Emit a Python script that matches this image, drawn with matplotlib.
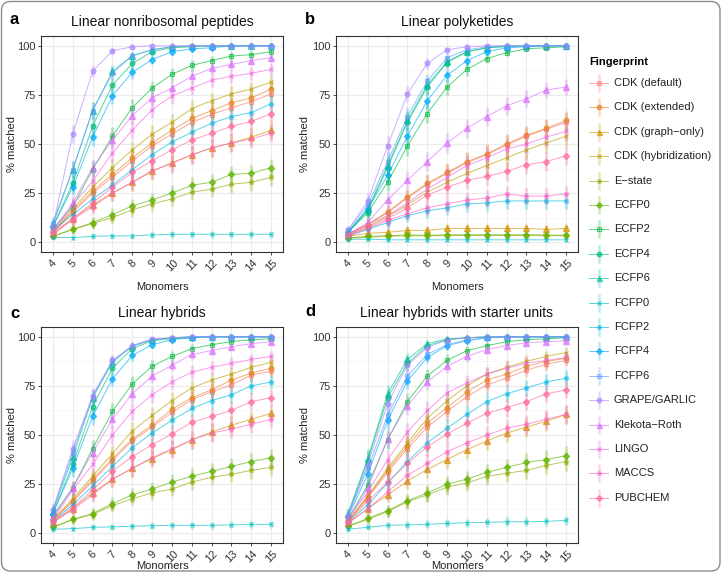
import numpy as np
import matplotlib
matplotlib.use("Agg")
import matplotlib.pyplot as plt
from matplotlib.patches import FancyBboxPatch

plt.rcParams['font.family'] = ['Liberation Sans', 'DejaVu Sans']

MONOMERS = [4, 5, 6, 7, 8, 9, 10, 11, 12, 13, 14, 15]

FINGERPRINTS = [
    "CDK (default)", "CDK (extended)", "CDK (graph\u2212only)", "CDK (hybridization)",
    "E\u2212state", "ECFP0", "ECFP2", "ECFP4", "ECFP6", "FCFP0", "FCFP2", "FCFP4",
    "FCFP6", "GRAPE/GARLIC", "Klekota\u2212Roth", "LINGO", "MACCS", "PUBCHEM",
]

# % matched, one row per fingerprint (same order as FINGERPRINTS)
NRP = [
    [5, 15, 25, 33, 41.5, 49, 55, 61, 65, 68.5, 71.5, 75.5],
    [5, 16, 26, 34.5, 43, 50.5, 57, 63, 67, 71, 73.5, 78],
    [4, 12, 19, 25, 30.5, 36, 40.5, 44.5, 48, 50.5, 53.5, 57],
    [5, 17, 28, 38, 47, 55, 61, 68, 72, 75.5, 78, 81.5],
    [3, 6.5, 9.5, 12.5, 16.5, 19.5, 22, 25.5, 27, 29.5, 30.5, 33],
    [3, 6.5, 10, 14, 18.5, 21.5, 25, 29, 30.5, 34.5, 35, 38],
    [7, 18, 37, 54, 68.5, 78.5, 85.5, 90, 92.5, 94.8, 95.5, 97],
    [8, 30, 59, 80, 91, 97, 99, 99.5, 100, 100, 100, 100],
    [9, 37, 67, 87, 95, 98, 99.5, 100, 100, 100, 100, 100],
    [2.5, 2.3, 3, 3.2, 3.2, 3.7, 4, 4, 4, 4, 4, 4],
    [6, 14, 22, 29, 37, 44.5, 51, 56, 60.5, 64, 66, 70.5],
    [8, 28, 53.5, 74.5, 86.5, 93, 97, 98.5, 99, 100, 100, 100],
    [10, 37, 67, 86, 95, 98, 99.5, 100, 100, 100, 100, 100],
    [8, 55, 87, 97.5, 99.5, 100, 100, 100, 100, 100, 100, 100],
    [6, 20, 38, 52, 64.5, 73.5, 78.5, 84.5, 88.5, 90.5, 92.5, 94],
    [5, 19, 31, 45.5, 57, 67.5, 74.5, 78.5, 82.5, 84.5, 86, 88],
    [4, 11.5, 18, 25, 30.5, 36.5, 40, 44.5, 48, 50.5, 52.5, 55.5],
    [5, 12, 20, 28, 35.5, 41.5, 47, 52, 55.5, 59, 61.5, 65.5],
]

PK = [
    [4, 9, 15, 22.5, 29.5, 35, 40.5, 44.5, 49.5, 54, 57.5, 61],
    [4, 9, 15.5, 23, 30, 35.5, 41, 45, 50, 54.5, 58, 62],
    [3, 4.5, 5, 6, 6, 7, 7, 7, 7, 7, 6.5, 7],
    [3.5, 8, 13, 19, 25.5, 30.5, 35, 39, 43, 47, 50.5, 54],
    [2, 2.5, 3, 3.3, 3.2, 3.4, 3.4, 3.4, 3.4, 3.4, 3.3, 3.3],
    [2.2, 3, 3.2, 3.7, 3.5, 3.8, 3.8, 3.8, 3.8, 3.8, 3.7, 3.5],
    [5, 15, 30.5, 49, 65.5, 79, 88, 93.5, 96.5, 98.5, 99, 99.5],
    [5, 16, 38, 61, 79, 91.5, 97, 99, 100, 100, 100, 100],
    [5, 17, 39, 62, 80, 92, 97, 99, 99.5, 100, 100, 100],
    [1.5, 1.5, 1.2, 1.2, 1.2, 1.2, 1.2, 1.2, 1.2, 1.2, 1.2, 1.2],
    [3, 6.5, 10, 13.5, 16, 17.5, 19.5, 20, 21, 21, 21, 21],
    [5, 17, 34, 54, 72, 85, 92.5, 97, 99, 99.5, 100, 100],
    [6, 19, 41, 64, 82, 94, 98, 99.5, 100, 100, 100, 100],
    [6, 21, 49, 75.5, 91, 98, 99.5, 100, 100, 100, 100, 100],
    [4, 10, 21.5, 31.5, 41, 50.5, 58, 64, 69.5, 73, 77.5, 79],
    [4, 9, 13.5, 20, 27, 33, 39, 43, 47.5, 50, 53.5, 56.5],
    [3, 7, 11, 14.5, 17.5, 19.5, 21.5, 22.5, 24.5, 23.5, 23.5, 24.5],
    [3.5, 7.5, 12, 17.5, 24, 28, 31.5, 33.5, 36, 39.5, 41, 44],
]

HYB = [
    [6.5, 16, 26.5, 37, 47, 54, 61.5, 68, 72, 75.5, 80.5, 82.5],
    [6.5, 16.5, 27.5, 38, 48, 55, 63, 69, 73, 78, 81.5, 84],
    [5.5, 12.5, 20.5, 27.5, 33, 38, 42.5, 47.5, 51.5, 55, 58, 61],
    [7, 17.5, 29, 40.5, 52, 60, 67.5, 74, 78, 81, 84.5, 87],
    [3, 7, 9.5, 14, 17.5, 20.5, 22.5, 26, 28.5, 30, 32, 33.5],
    [3, 7, 10, 15, 19.5, 22.5, 26, 29, 31.5, 34, 36.5, 38.5],
    [9, 23, 43, 62, 76, 85, 90, 94, 96, 97.5, 98.5, 99],
    [10, 35, 64.5, 84, 94, 98, 99, 99.5, 100, 100, 100, 100],
    [11, 39, 69, 87, 95.5, 98.5, 99.5, 100, 100, 100, 100, 100],
    [2, 2.3, 3, 3.2, 3.5, 3.8, 4, 4, 4, 4.2, 4.5, 4.5],
    [6, 14.5, 24, 34, 43.5, 51, 57.5, 63.5, 67.5, 70.5, 75, 77],
    [10, 33, 59.5, 78.5, 90.5, 96, 98.5, 99.5, 100, 100, 100, 100],
    [12, 41, 69.5, 87.5, 95, 98.5, 99.5, 100, 100, 100, 100, 100],
    [12, 43, 70, 88, 95.5, 99, 99.5, 100, 100, 100, 100, 100],
    [8, 23, 41, 58, 71, 80, 85.5, 91, 93, 95, 96.5, 97.5],
    [7, 22, 35, 50, 62, 70.5, 77, 82, 84.5, 86.5, 88.5, 90],
    [5.5, 12, 19.5, 27.5, 33, 38.5, 43, 47.5, 51, 53, 55.5, 58],
    [6, 13, 22, 31.5, 39, 45, 50.5, 56.5, 59.5, 62.5, 67, 69],
]

HYB_START = [
    [6, 18, 31, 43, 54, 62, 69.5, 75.5, 79, 83, 86, 88],
    [6, 18.5, 32, 44.5, 56, 64, 72, 78, 81, 85, 87.5, 89],
    [5, 12.5, 19.5, 26.5, 32.5, 37.5, 42.5, 47, 51, 54, 57, 60.5],
    [6, 19, 33, 46, 58.5, 67.5, 75, 81, 84.5, 87.5, 90, 92],
    [3.5, 7, 11, 16, 19.5, 23.5, 25.5, 29, 30.5, 32, 34.5, 36.5],
    [3.5, 7.5, 11.5, 16.5, 20.5, 25, 27.5, 31, 33.5, 36, 37.5, 39.5],
    [7, 24.5, 47.5, 67, 80, 88, 93, 95.5, 97.5, 98.5, 99, 99.5],
    [9, 37, 69, 86.5, 95.5, 98.5, 99.5, 100, 100, 100, 100, 100],
    [10, 38, 71, 88.5, 96.5, 99, 99.5, 100, 100, 100, 100, 100],
    [2, 3, 4, 4.2, 4.5, 5, 5.3, 5.5, 5.8, 5.8, 6, 6.5],
    [5.5, 14.5, 25.5, 36.5, 46, 53.5, 60.5, 67, 71, 74, 77, 79],
    [8, 30, 57.5, 77.5, 89.5, 95.5, 98, 99.5, 100, 100, 100, 100],
    [9, 33, 60, 80, 91, 96, 98.5, 99.5, 100, 100, 100, 100],
    [9, 35, 66, 85.5, 94.5, 98.5, 99.5, 100, 100, 100, 100, 100],
    [7, 23, 48, 65, 77, 85, 90, 93.5, 95.5, 97, 97.5, 98],
    [7, 21, 37.5, 51.5, 62.5, 71.5, 76.5, 81, 84, 86.5, 88, 89.5],
    [5, 12.5, 21, 29.5, 35.5, 41.5, 46, 50, 53.5, 55.5, 58, 60.5],
    [5.5, 16.5, 26, 35.5, 44, 50.5, 56, 61, 64, 67, 71, 73],
]

PANELS = [
    ("a", "Linear nonribosomal peptides", NRP),
    ("b", "Linear polyketides", PK),
    ("c", "Linear hybrids", HYB),
    ("d", "Linear hybrids with starter units", HYB_START),
]

# number of test structures per class, used for the 95% interval bars
N_STRUCTURES = [450, 400, 480, 420]

W, H = 722, 573
# axes boxes in pixels: left, top, right, bottom
BOXES = [(41, 36, 283, 252), (336, 36, 578, 252),
         (41, 327, 283, 543), (336, 327, 578, 543)]
# where the panel letter, the y label and the x label sit (pixels)
LETTER_POS = [(10, 20), (305, 20), (10, 313), (305, 312)]
YLABEL_X = [12, 305, 12, 305]
XLABEL_Y = [287, 287, 566, 566]


def hue_color(h, c=100.0, l=65.0):
    # ggplot2 hue palette: polar LUV -> sRGB
    xn, yn, zn = 95.047, 100.0, 108.883
    un = 4 * xn / (xn + 15 * yn + 3 * zn)
    vn = 9 * yn / (xn + 15 * yn + 3 * zn)
    u = c * np.cos(np.radians(h))
    v = c * np.sin(np.radians(h))
    Y = yn * ((l + 16) / 116) ** 3
    up = u / (13 * l) + un
    vp = v / (13 * l) + vn
    X = Y * 9 * up / (4 * vp)
    Z = Y * (12 - 3 * up - 20 * vp) / (4 * vp)
    xyz = np.array([X, Y, Z]) / 100
    m = np.array([[3.2404542, -1.5371385, -0.4985314],
                  [-0.9692660, 1.8760108, 0.0415560],
                  [0.0556434, -0.2040259, 1.0572252]])
    rgb = m @ xyz
    rgb = np.where(rgb <= 0.0031308, 12.92 * rgb, 1.055 * np.abs(rgb) ** (1 / 2.4) - 0.055)
    return tuple(np.clip(rgb, 0, 1))


COLORS = [hue_color(15 + 20 * i) for i in range(len(FINGERPRINTS))]
SHAPE_CYCLE = ["sq", "o", "^", "x", "ast", "D"]
PT_ALPHA = 0.65


def draw_marker(ax, x, y, color, shape, size=3.4, alpha=PT_ALPHA):
    if shape == "sq":
        ax.plot(x, y, ls="none", marker="s", ms=size, mfc="none", mec=color, mew=0.8, alpha=alpha)
        ax.plot(x, y, ls="none", marker="+", ms=size, mec=color, mew=0.6, alpha=alpha)
    elif shape == "o":
        ax.plot(x, y, ls="none", marker="o", ms=size, mfc=color, mec=color, alpha=alpha)
    elif shape == "^":
        ax.plot(x, y, ls="none", marker="^", ms=size + 0.4, mfc=color, mec=color, alpha=alpha)
    elif shape == "x":
        ax.plot(x, y, ls="none", marker="x", ms=size, mec=color, mew=0.9, alpha=alpha)
    elif shape == "ast":
        ax.plot(x, y, ls="none", marker=(8, 2, 0), ms=size + 0.4, mec=color, mew=0.7, alpha=alpha)
    else:
        ax.plot(x, y, ls="none", marker="D", ms=size - 0.3, mfc=color, mec=color, alpha=alpha)


fig = plt.figure(figsize=(W / 100, H / 100), dpi=100)

for k, ((letter, title, data), n, box) in enumerate(zip(PANELS, N_STRUCTURES, BOXES)):
    l, t, r, b = box
    ax = fig.add_axes([l / W, 1 - b / H, (r - l) / W, (b - t) / H])
    ax.set_xlim(3.4, 15.6)
    ax.set_ylim(-5, 105)
    ax.set_yticks([0, 25, 50, 75, 100])
    ax.set_yticks([12.5, 37.5, 62.5, 87.5], minor=True)
    ax.set_xticks(MONOMERS)
    ax.set_xticklabels([str(m) for m in MONOMERS], rotation=45, ha="center", va="top")
    ax.grid(which="major", color="#EBEBEB", lw=0.8)
    ax.grid(which="minor", axis="y", color="#F4F4F4", lw=0.5)
    ax.set_axisbelow(True)
    for s in ax.spines.values():
        s.set_color("#333333")
        s.set_linewidth(0.8)
    ax.tick_params(which="major", length=2.5, width=0.6, color="#333333",
                   labelsize=8, labelcolor="#333333", pad=1.5)
    ax.tick_params(which="minor", length=0)
    ax.set_xlabel("Monomers", fontsize=8, color="#222222", va="center")
    ax.xaxis.set_label_coords(0.5, -(XLABEL_Y[k] - b) / (b - t))
    ax.set_ylabel("% matched", fontsize=8, color="#222222", va="center")
    ax.yaxis.set_label_coords(-(l - YLABEL_X[k]) / (r - l), 0.5)
    ax.set_title(title, fontsize=10, color="#111111", pad=7)

    x = np.array(MONOMERS)
    for i, row in enumerate(data):
        y = np.array(row, dtype=float)
        p = np.clip(y / 100, 0, 1)
        err = 196 * np.sqrt(p * (1 - p) / n)
        col = COLORS[i]
        ax.vlines(x, y - err, y + err, color=col, lw=2.2, alpha=0.28, zorder=2)
        ax.plot(x, y, color=col, lw=0.7, alpha=PT_ALPHA, zorder=3)
        draw_marker(ax, x, y, col, SHAPE_CYCLE[i % 6])

    lx, ly = LETTER_POS[k]
    fig.text(lx / W, 1 - ly / H, letter, fontsize=12, fontweight="bold",
             ha="left", va="center")

# overlay in pixel coordinates for the legend and outer frame
ov = fig.add_axes([0, 0, 1, 1], zorder=-1)
ov.set_xlim(0, W)
ov.set_ylim(H, 0)
ov.axis("off")
ov.add_patch(FancyBboxPatch((1.5, 1.5), W - 3.5, H - 3.5, boxstyle="round,pad=0,rounding_size=9",
                            fc="none", ec="#8C8C8C", lw=1.0))

lg = fig.add_axes([0, 0, 1, 1], zorder=5)
lg.set_xlim(0, W)
lg.set_ylim(H, 0)
lg.axis("off")
lg.text(589, 62, "Fingerprint", fontsize=8, fontweight="bold", ha="left", va="center")
for i, name in enumerate(FINGERPRINTS):
    yy = 83 + i * 24.4
    col = COLORS[i]
    lg.plot([589, 608], [yy, yy], color=col, lw=0.7, alpha=PT_ALPHA)
    lg.plot([598.5, 598.5], [yy - 8, yy + 8], color=col, lw=1.8, alpha=0.28)
    draw_marker(lg, [598.5], [yy], col, SHAPE_CYCLE[i % 6], size=3.2)
    lg.text(614, yy, name, fontsize=8, ha="left", va="center", color="#222222")

fig.savefig("out.png", dpi=100)
